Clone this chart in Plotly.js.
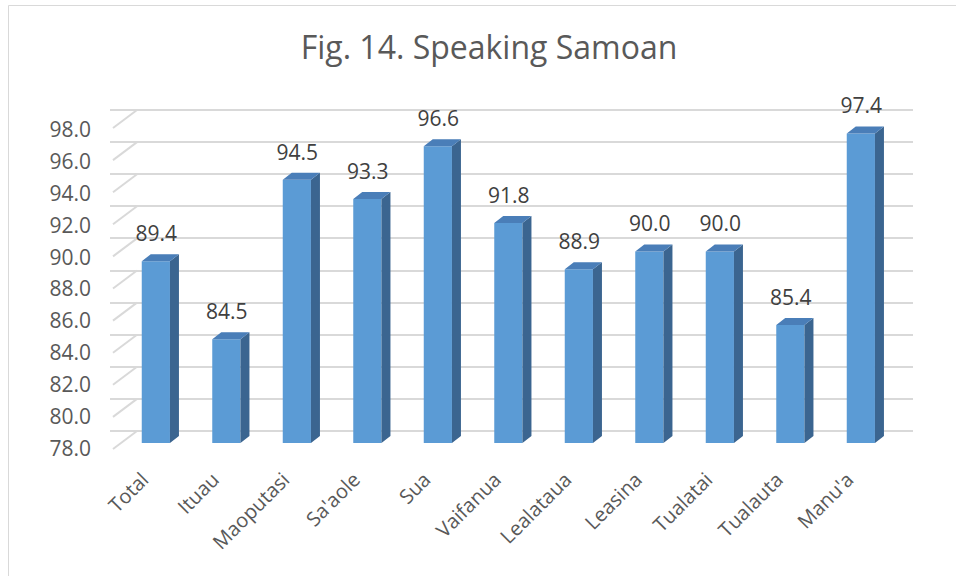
<!DOCTYPE html>
<html><head><meta charset="utf-8">
<script src="https://cdn.plot.ly/plotly-3.0.1.min.js"></script>
<style>html,body{margin:0;padding:0;background:#fff}</style>
</head><body><div id="chart" style="width:956px;height:576px"></div>
<script>
const categories = ['Total','Ituau','Maoputasi',"Sa'aole",'Sua','Vaifanua','Lealataua','Leasina','Tualatai','Tualauta',"Manu'a"];
const values = [89.4,84.5,94.5,93.3,96.6,91.8,88.9,90.0,90.0,85.4,97.4];
const yTicks = [78,80,82,84,86,88,90,92,94,96,98];
const yBase = 78;

// ---- geometry (pixels -> axis units) ----
const W = 956, H = 576;
const slotPx = 70.5, firstCenterPx = 155.85;
const barPxPerUnit = 15.95, barBasePx = 443;
const gridPxPerUnit = 16.05, gridBasePx = 431;
const pxToX2 = px => (px - firstCenterPx) / slotPx;
const halfW = 0.2;
const dX = 9 / slotPx, dY = 7 / barPxPerUnit;
const yMin = 76, yMax = 100;
const barDom = [1 - (barBasePx + (yBase - yMin) * barPxPerUnit) / H, 1 - (barBasePx - (yMax - yBase) * barPxPerUnit) / H];
const gridDom = [1 - (gridBasePx + (yBase - yMin) * gridPxPerUnit) / H, 1 - (gridBasePx - (yMax - yBase) * gridPxPerUnit) / H];
const x2Dom = [110 / W, 913 / W];
const idx = categories.map((c, i) => i);

const frontColor = '#5B9BD5', sideColor = '#3B6590', topColor = '#4A7EB8';

// side-wall diagonals (front floor edge to back wall), on x2 / y(grid)
const dgx = [], dgy = [];
yTicks.forEach(v => {
  dgx.push(pxToX2(113), pxToX2(137), null);
  dgy.push(v - 18 / gridPxPerUnit, v, null);
});

const sx = [], sy = [], tx = [], ty = [];
values.forEach((v, i) => {
  sx.push(i + halfW, i + halfW + dX, i + halfW + dX, i + halfW, null);
  sy.push(yBase, yBase + dY, v + dY, v, null);
  tx.push(i - halfW, i - halfW + dX, i + halfW + dX, i + halfW, null);
  ty.push(v, v + dY, v + dY, v, null);
});

const traces = [
  {type:'scatter', mode:'lines', x:[0, 10], y:[yMin - 5, yMin - 5], xaxis:'x', yaxis:'y', hoverinfo:'skip', line:{color:'rgba(0,0,0,0)'}},
  {type:'scatter', mode:'lines', x:dgx, y:dgy, xaxis:'x2', yaxis:'y', hoverinfo:'skip', line:{color:'#d9d9d9', width:2}},
  {type:'bar', x:idx, y:values.map(v => v - yBase), base:yBase, width:2 * halfW, xaxis:'x2', yaxis:'y2', hoverinfo:'skip',
   marker:{color:frontColor, line:{width:0}}},
  {type:'scatter', mode:'lines', x:sx, y:sy, fill:'toself', fillcolor:sideColor, line:{width:0, color:sideColor}, xaxis:'x2', yaxis:'y2', hoverinfo:'skip'},
  {type:'scatter', mode:'lines', x:tx, y:ty, fill:'toself', fillcolor:topColor, line:{width:0, color:topColor}, xaxis:'x2', yaxis:'y2', hoverinfo:'skip'},
  {type:'scatter', mode:'text', x:idx.map(i => i + 0.005), y:values.map(v => v + 1.59), text:values.map(v => v.toFixed(1)),
   textposition:'middle center', textfont:{size:21, color:'#404040'}, xaxis:'x2', yaxis:'y2', hoverinfo:'skip', cliponaxis:false}
];

const layout = {
  width:W, height:H, margin:{l:0, r:0, t:0, b:0},
  paper_bgcolor:'#ffffff', plot_bgcolor:'rgba(0,0,0,0)', showlegend:false,
  font:{family:'"Open Sans", sans-serif', color:'#595959'},
  title:{text:'Fig. 14. Speaking Samoan', font:{size:32, color:'#595959'}, x:489 / W, xanchor:'center', y:1 - 47.5 / H, yanchor:'middle'},
  xaxis:{domain:[137 / W, 913 / W], range:[-0.5, 10.5], showgrid:false, zeroline:false, showticklabels:false, ticks:'', showline:false, fixedrange:true},
  yaxis:{domain:gridDom, range:[yMin, yMax], tickvals:yTicks, showgrid:true, gridcolor:'#d9d9d9', gridwidth:2, zeroline:false,
         showticklabels:false, ticks:'', showline:false, anchor:'x', fixedrange:true},
  xaxis2:{domain:x2Dom, range:[pxToX2(110), pxToX2(913)], anchor:'free', position:1 - 463 / H,
          tickmode:'array', tickvals:idx, ticktext:categories, tickangle:-45, tickfont:{size:20, color:'#595959'}, ticklabelshift:-13,
          showgrid:false, zeroline:false, ticks:'', showline:false, fixedrange:true},
  yaxis2:{domain:barDom, range:[yMin, yMax], anchor:'free', position:91 / W,
          tickmode:'array', tickvals:yTicks.map(v => v - 0.35), ticktext:yTicks.map(v => v.toFixed(1)), tickfont:{size:21, color:'#595959'},
          showgrid:false, zeroline:false, ticks:'', showline:false, fixedrange:true},
  shapes:[{type:'rect', xref:'paper', yref:'paper', x0:8.5 / W, x1:1.2, y0:-0.2, y1:1 - 5.5 / H, line:{color:'#d9d9d9', width:1}, fillcolor:'rgba(0,0,0,0)', layer:'below'}]
};

Plotly.newPlot('chart', traces, layout, {staticPlot:true, displayModeBar:false});
</script>
</body></html>
